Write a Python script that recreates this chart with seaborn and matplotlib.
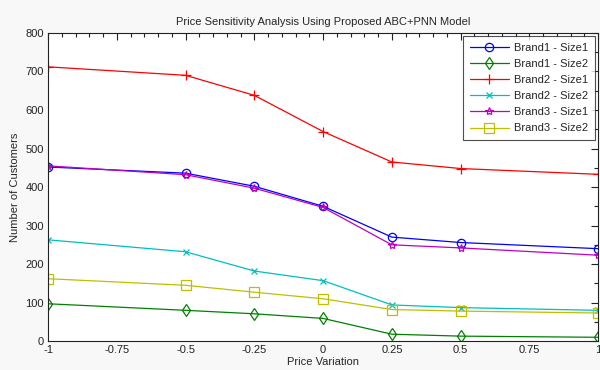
import numpy as np
import pandas as pd
import matplotlib
matplotlib.use('Agg')
import matplotlib.pyplot as plt
import seaborn as sns
from matplotlib.ticker import MultipleLocator

# Dữ liệu
price = [-1, -0.5, -0.25, 0, 0.25, 0.5, 1]
brand1_size1 = [452, 436, 402, 350, 270, 256, 240]
brand1_size2 = [97, 80, 71, 59, 18, 13, 10]
brand2_size1 = [712, 690, 638, 544, 465, 448, 433]
brand2_size2 = [263, 232, 182, 157, 94, 87, 80]
brand3_size1 = [455, 432, 397, 347, 250, 242, 223]
brand3_size2 = [162, 145, 127, 110, 82, 78, 73]

series = [
    ('Brand1 - Size1', brand1_size1, 'blue', 'o', 6),
    ('Brand1 - Size2', brand1_size2, 'green', 'd', 6),
    ('Brand2 - Size1', brand2_size1, 'red', '+', 7),
    ('Brand2 - Size2', brand2_size2, 'c', 'x', 4),
    ('Brand3 - Size1', brand3_size1, 'm', '*', 6),
    ('Brand3 - Size2', brand3_size2, 'y', 's', 7),
]

sns.set_style('white')
plt.rcParams['font.family'] = ['Liberation Sans', 'DejaVu Sans']

fig = plt.figure(figsize=(6, 3.7), dpi=100, facecolor='#f8f8f8')
ax = fig.add_axes([0.08, 0.078, 0.917, 0.833])

for name, vals, col, mk, ms in series:
    sns.lineplot(x=price, y=vals, ax=ax, color=col, marker=mk, markersize=ms,
                 markerfacecolor='none', markeredgecolor=col, markeredgewidth=0.9,
                 linewidth=0.9, label=name)

ax.set_xlim(-1, 1)
ax.set_ylim(0, 800)
ax.xaxis.set_minor_locator(MultipleLocator(0.05))
ax.yaxis.set_major_locator(MultipleLocator(100))
ax.yaxis.set_minor_locator(MultipleLocator(50))
ax.set_xticks([-1, -0.75, -0.5, -0.25, 0, 0.25, 0.5, 0.75, 1])
ax.set_xticklabels(['-1', '-0.75', '-0.5', '-0.25', '0', '0.25', '0.5', '0.75', '1'])
ax.tick_params(which='both', direction='in', top=True, right=True,
               labelsize=8, colors='#222222', pad=3)
ax.tick_params(which='major', length=5, width=0.8)
ax.tick_params(which='minor', length=3, width=0.8)
for s in ax.spines.values():
    s.set_color('#222222')
    s.set_linewidth(0.8)

ax.set_title('Price Sensitivity Analysis Using Proposed ABC+PNN Model', fontsize=8, pad=6)
ax.set_xlabel('Price Variation', fontsize=8, labelpad=1)
ax.set_ylabel('Number of Customers', fontsize=8, labelpad=4)

leg = ax.legend(loc='upper right', fontsize=8, frameon=True, fancybox=False,
                edgecolor='#222222', handlelength=3.5, borderpad=0.6,
                labelspacing=0.55, borderaxespad=0.3, handletextpad=0.5)
leg.get_frame().set_linewidth(0.8)

fig.savefig('out.png', dpi=100, facecolor=fig.get_facecolor())
